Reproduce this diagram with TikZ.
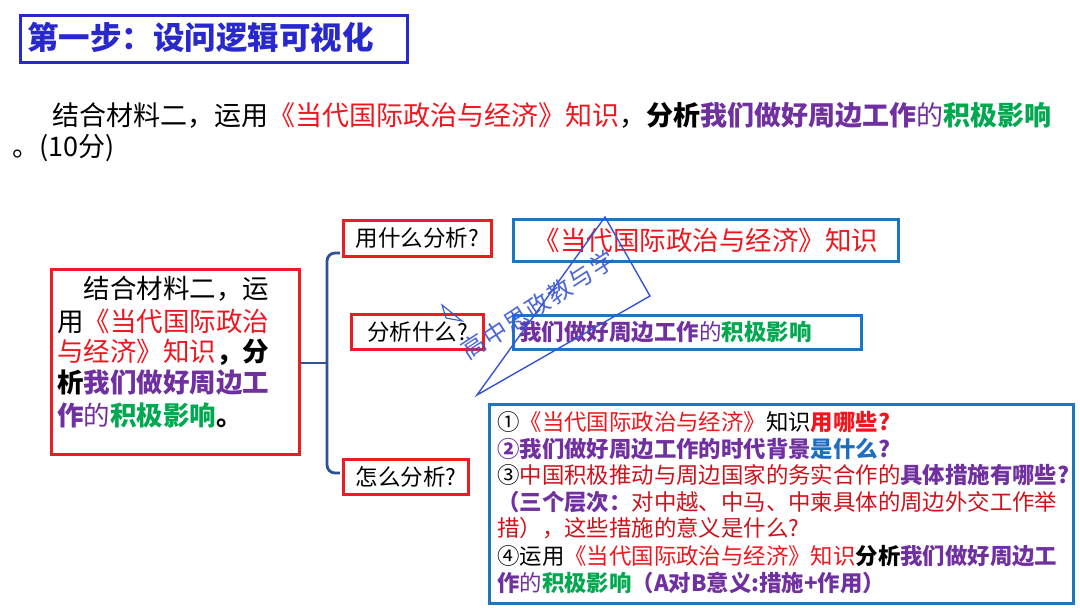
\documentclass[tikz,border=0pt]{standalone}
\usepackage{fontspec}
\setmainfont{Noto Sans CJK SC}
\usetikzlibrary{calc}
\definecolor{tblue}{RGB}{40,40,205}
\definecolor{bred}{RGB}{236,28,36}
\definecolor{tred}{RGB}{240,22,30}
\definecolor{dred}{RGB}{205,18,28}
\definecolor{tpur}{RGB}{112,48,160}
\definecolor{tgrn}{RGB}{0,168,80}
\definecolor{bblue}{RGB}{30,118,190}
\definecolor{qblue}{RGB}{30,110,195}
\definecolor{brc}{RGB}{47,82,150}
\definecolor{wmblue}{RGB}{55,85,210}
\newcommand\xred[1]{\textcolor{tred}{#1}}
\newcommand\xdrd[1]{\textcolor{dred}{#1}}
\newcommand\xpur[1]{\textcolor{tpur}{#1}}
\newcommand\xgrn[1]{\textcolor{tgrn}{#1}}
\newcommand\xblu[1]{\textcolor{qblue}{#1}}
\newcommand\fsz[1]{\fontsize{#1pt}{#1pt}\selectfont}
\begin{document}
\begin{tikzpicture}[x=1pt,y=-1pt,
  txt/.style={inner sep=0pt, anchor=west},
  redbox/.style={draw=bred, line width=2.7pt, inner sep=0pt, anchor=north west},
  bluebox/.style={draw=bblue, line width=2.7pt, inner sep=0pt, anchor=north west},
  bracestyle/.style={draw=brc, line width=2.8pt},
  wm/.style={draw=wmblue, line width=1.4pt}]
\useasboundingbox[fill=white] (0,0) rectangle (1080,608);

% title
\node[draw=tblue, line width=3pt, inner sep=0pt, anchor=north west, minimum width=387pt, minimum height=47pt] (title) at (19,14) {};
\node[txt, text=tblue] (titletext) at (27,38) {\fsz{31.5}\bfseries 第一步：设问逻辑可视化};

% paragraph
\node[txt] (p1) at (52,115) {\fsz{27}结合材料二，运用\xred{《当代国际政治与经济》知识}，\textbf{分析}\xpur{\textbf{我们做好周边工作}的}\xgrn{\textbf{积极影响}}};
\node[txt] (p2) at (12,148) {\fsz{27}。(10分)};

% left box
\node[redbox, minimum width=248pt, minimum height=185pt] (lb) at (50,268) {};
\node[txt] (lb1) at (57,289) {\fsz{26.5}\hspace*{26.5pt}结合材料二，运};
\node[txt] (lb2) at (57,321) {\fsz{26.5}用\xred{《当代国际政治}};
\node[txt] (lb3) at (57,352) {\fsz{26.5}\xred{与经济》知识}\textbf{，分}};
\node[txt] (lb4) at (57,383) {\fsz{26.5}\textbf{析}\xpur{\textbf{我们做好周边工}}};
\node[txt] (lb5) at (57,415) {\fsz{26.5}\xpur{\textbf{作}的}\xgrn{\textbf{积极影响}}\textbf{。}};

% questions
\node[redbox, minimum width=148pt, minimum height=36pt] (q1) at (342,219) {\fsz{22.5}用什么分析?};
\node[redbox, minimum width=132pt, minimum height=35pt] (q2) at (350,313) {\fsz{22.5}分析什么?};
\node[redbox, minimum width=125pt, minimum height=35pt] (q3) at (342,458) {\fsz{22.5}怎么分析?};

% answers
\node[bluebox, minimum width=385pt, minimum height=42pt] (a1) at (512,218) {\fsz{26.5}\xred{《当代国际政治与经济》知识}};
\node[bluebox, minimum width=348pt, minimum height=34pt] (a2) at (512,314) {\makebox[336pt][l]{\fsz{22.5}\xpur{\textbf{我们做好周边工作}的}\xgrn{\textbf{积极影响}}}};
\node[bluebox, minimum width=584pt, minimum height=199pt] (a3) at (488,403) {};
\node[txt] (a31) at (497,422) {\fsz{22.4}①\xred{《当代国际政治与经济》}知识\xred{\textbf{用哪些?}}};
\node[txt] (a32) at (497,449) {\fsz{22.4}\xpur{\textbf{②我们做好周边工作的时代背景}}\xblu{\textbf{是什么}}\xpur{\textbf{?}}};
\node[txt] (a33) at (497,475) {\fsz{22.4}③\xdrd{中国积极推动与周边国家的务实合作的}\xpur{\textbf{具体措施有哪些?}}};
\node[txt] (a34) at (497,502) {\fsz{22.4}\xpur{\textbf{（三个层次：}}\xdrd{对中越、中马、中柬具体的周边外交工作举}};
\node[txt] (a35) at (497,528) {\fsz{22.4}\xdrd{措），这些措施的意义是什么?}};
\node[txt] (a36) at (497,556) {\fsz{22.4}④运用\xred{《当代国际政治与经济》知识}\textbf{分析}\xpur{\textbf{我们做好周边工}}};
\node[txt] (a37) at (497,583) {\fsz{22.4}\xpur{\textbf{作}的}\xgrn{\textbf{积极影响}}\xpur{\textbf{（A对B意义:措施+作用）}}};

% brace
\coordinate (bt) at (340,253);
\coordinate (bb) at (340,473);
\coordinate (bm) at (327,363);
\draw[bracestyle, rounded corners=8pt] (bt) -- (bm |- bt) -- (bm |- bb) -- (bb);
\draw[bracestyle] (lb.east |- bm) -- (bm);

% watermark
\coordinate (wa) at (605,217);
\coordinate (wr) at (650,296);
\coordinate (wb) at (477,395);
\draw[wm] (wb) -- (wa) -- (wr) -- cycle;
\draw[wm, line width=1.1pt] (442,305) -- (462,321) -- (446,318) -- cycle;
\node[inner sep=0pt, rotate=33, text=wmblue, opacity=0.9] (wmt) at (538,305) {\fsz{24}高\kern1.5pt中\kern1.5pt思\kern1.5pt政\kern1.5pt教\kern1.5pt与\kern1.5pt学};
\end{tikzpicture}
\end{document}
